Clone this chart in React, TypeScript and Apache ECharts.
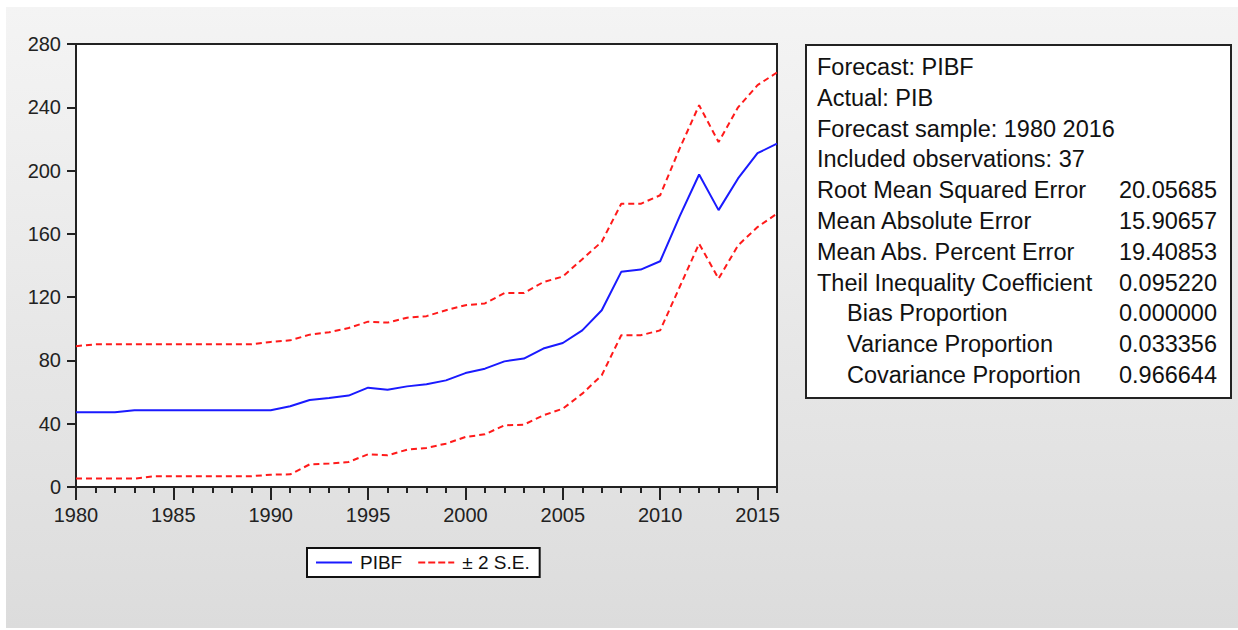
import React, { useEffect, useRef } from "react";
import * as echarts from "echarts";

const years = [
  1980, 1981, 1982, 1983, 1984, 1985, 1986, 1987, 1988, 1989,
  1990, 1991, 1992, 1993, 1994, 1995, 1996, 1997, 1998, 1999,
  2000, 2001, 2002, 2003, 2004, 2005, 2006, 2007, 2008, 2009,
  2010, 2011, 2012, 2013, 2014, 2015, 2016,
];
const pibf = [
  47.2, 47.2, 47.2, 48.5, 48.5, 48.5, 48.5, 48.5, 48.5, 48.5,
  48.5, 51, 55, 56.2, 57.8, 62.8, 61.5, 63.6, 65, 67.4,
  72, 74.8, 79.4, 81.2, 87.5, 91, 99, 111.7, 136, 137.4,
  142.7, 171, 197.5, 175, 195, 211, 217,
];
const upperSE = [
  89, 90.2, 90.2, 90.2, 90.2, 90.2, 90.2, 90.2, 90.2, 90.2,
  91.7, 92.7, 96.3, 97.8, 100.5, 104.5, 103.9, 107, 108, 111.7,
  114.9, 116, 122.6, 122.6, 129.5, 133, 144, 155, 179, 179,
  184.4, 213.9, 241.3, 218, 240, 254, 262,
];
const lowerSE = [
  5.3, 5.3, 5.3, 5.3, 6.8, 6.8, 6.8, 6.8, 6.8, 6.8,
  7.8, 8, 14.3, 14.8, 15.8, 20.7, 20, 23.6, 24.7, 27.4,
  31.6, 33.3, 39, 39.4, 45.3, 49.5, 59, 70.6, 95.9, 95.9,
  99, 126.4, 153.8, 131.7, 152.7, 164.3, 172.8,
];

const statLabels = [
  "Forecast: PIBF",
  "Actual: PIB",
  "Forecast sample: 1980 2016",
  "Included observations: 37",
  "Root Mean Squared Error",
  "Mean Absolute Error",
  "Mean Abs. Percent Error",
  "Theil Inequality Coefficient",
  "Bias Proportion",
  "Variance Proportion",
  "Covariance Proportion",
];
const statValues = [
  "", "", "", "",
  "20.05685", "15.90657", "19.40853", "0.095220",
  "0.000000", "0.033356", "0.966644",
];
const statIndented = [false, false, false, false, false, false, false, false, true, true, true];

const FONT = '"Liberation Sans", Arial, sans-serif';
const BLUE = "#1a1aff";
const RED = "#ff1a1a";

export default function App() {
  const ref = useRef<HTMLDivElement>(null);
  useEffect(() => {
    if (!ref.current) return;
    const chart = echarts.init(ref.current, null, { renderer: "svg" });
    const pair = (arr: number[]) => years.map((y, i) => [y, arr[i]]);
    const statFont = `23.5px ${FONT}`;
    const texts: any[] = [];
    statLabels.forEach((t, i) => {
      texts.push({
        type: "text",
        x: statIndented[i] ? 847 : 817,
        y: 67 + i * 30.8,
        style: { text: t, font: statFont, fill: "#111", verticalAlign: "middle", align: "left" },
      });
      if (statValues[i]) {
        texts.push({
          type: "text",
          x: 1217,
          y: 67 + i * 30.8,
          style: { text: statValues[i], font: statFont, fill: "#111", verticalAlign: "middle", align: "right" },
        });
      }
    });
    chart.setOption({
      animation: false,
      textStyle: { fontFamily: FONT },
      grid: {
        left: 76,
        top: 44,
        width: 701,
        height: 443,
        show: true,
        backgroundColor: "#ffffff",
        borderColor: "#222",
        borderWidth: 2,
      },
      xAxis: [
        {
          type: "value",
          min: 1980,
          max: 2016,
          interval: 1,
          position: "bottom",
          axisLine: { show: true, lineStyle: { color: "#222", width: 2 } },
          axisTick: { show: true, length: 6, lineStyle: { color: "#222", width: 2 } },
          axisLabel: { show: false },
          splitLine: { show: false },
        },
        {
          type: "value",
          min: 1980,
          max: 2016,
          interval: 5,
          position: "bottom",
          axisLine: { show: false },
          axisTick: { show: true, length: 13, lineStyle: { color: "#222", width: 2 } },
          axisLabel: {
            show: true,
            showMaxLabel: false,
            fontSize: 20,
            color: "#222",
            margin: 18,
            fontFamily: FONT,
            formatter: (v: number) => String(v),
          },
          splitLine: { show: false },
        },
      ],
      yAxis: {
        type: "value",
        min: 0,
        max: 280,
        interval: 40,
        axisLine: { show: true, lineStyle: { color: "#222", width: 2 } },
        axisTick: { show: true, length: 9, lineStyle: { color: "#222", width: 2 } },
        axisLabel: { fontSize: 20, color: "#222", margin: 15, fontFamily: FONT },
        splitLine: { show: false },
      },
      legend: {
        left: 307,
        top: 548,
        orient: "horizontal",
        backgroundColor: "#ffffff",
        borderColor: "#111",
        borderWidth: 2,
        padding: [5, 10, 5, 9],
        itemWidth: 36,
        itemHeight: 2,
        itemGap: 16,
        textStyle: { fontSize: 19, color: "#111", fontFamily: FONT, padding: [0, 0, 0, 3] },
        data: [
          { name: "PIBF", icon: "path://M0 0h36v2h-36z" },
          {
            name: "± 2 S.E.",
            icon: "path://M0 0h7v2h-7z M10 0h7v2h-7z M20 0h7v2h-7z M30 0h6v2h-6z",
          },
        ],
      },
      series: [
        {
          name: "PIBF",
          type: "line",
          xAxisIndex: 0,
          data: pair(pibf),
          showSymbol: false,
          symbol: "none",
          lineStyle: { color: BLUE, width: 2 },
          itemStyle: { color: BLUE },
          z: 3,
        },
        {
          name: "± 2 S.E.",
          type: "line",
          xAxisIndex: 0,
          data: pair(upperSE),
          showSymbol: false,
          symbol: "none",
          lineStyle: { color: RED, width: 2, type: [6, 4] },
          itemStyle: { color: RED },
        },
        {
          name: "± 2 S.E.",
          type: "line",
          xAxisIndex: 0,
          data: pair(lowerSE),
          showSymbol: false,
          symbol: "none",
          lineStyle: { color: RED, width: 2, type: [6, 4] },
          itemStyle: { color: RED },
        },
      ],
      graphic: [
        {
          type: "rect",
          shape: { x: 806, y: 45, width: 425, height: 353 },
          style: { fill: "#ffffff", stroke: "#222", lineWidth: 2 },
        },
        ...texts,
      ],
    });
    return () => chart.dispose();
  }, []);
  return (
    <div style={{ position: "fixed", left: 0, top: 0, width: 1238, height: 630, background: "#ffffff" }}>
      <div
        style={{
          position: "absolute",
          left: 6,
          top: 7,
          width: 1232,
          height: 621,
          background: "linear-gradient(#f4f4f4, #dcdcdc)",
        }}
      />
      <div ref={ref} style={{ position: "absolute", left: 0, top: 0, width: 1238, height: 630 }} />
    </div>
  );
}
